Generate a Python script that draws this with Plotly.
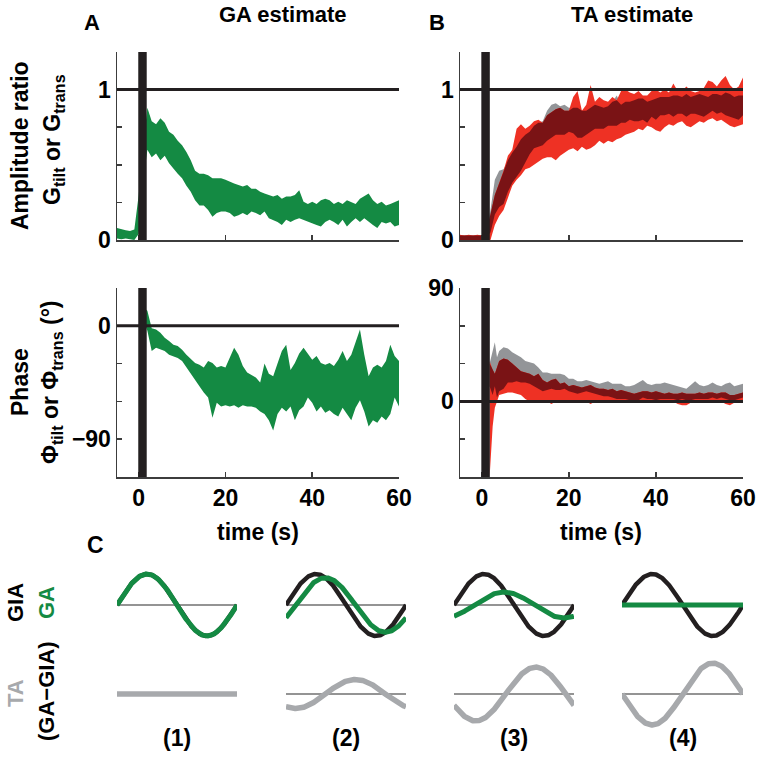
import numpy as np
import plotly.graph_objects as go

# ---------------- data ----------------
# Panel A top: GA amplitude ratio band, t = -5..60 s
t_amp = list(range(-5, 61))
ga_amp_hi = [0.08, 0.07, 0.065, 0.06, 0.07, 0.30, 0.62, 0.88, 0.79, 0.77, 0.81, 0.78, 0.72, 0.70, 0.66, 0.63,
             0.585, 0.53, 0.46, 0.44, 0.44, 0.43, 0.41, 0.41, 0.41, 0.40, 0.385, 0.375, 0.365, 0.355, 0.365,
             0.34, 0.34, 0.32, 0.31, 0.30, 0.29, 0.30, 0.275, 0.29, 0.29, 0.30, 0.33, 0.255, 0.24, 0.255,
             0.24, 0.265, 0.275, 0.265, 0.24, 0.255, 0.24, 0.265, 0.255, 0.24, 0.275, 0.29, 0.31, 0.265,
             0.24, 0.255, 0.23, 0.24, 0.255, 0.265]
ga_amp_lo = [0.01, 0.005, 0.01, 0.005, 0.0, 0.04, 0.38, 0.60, 0.55, 0.575, 0.53, 0.56, 0.51, 0.475, 0.44, 0.41,
             0.36, 0.32, 0.265, 0.23, 0.23, 0.20, 0.155, 0.18, 0.19, 0.19, 0.18, 0.155, 0.165, 0.18, 0.165,
             0.19, 0.18, 0.165, 0.19, 0.145, 0.135, 0.12, 0.10, 0.135, 0.12, 0.135, 0.145, 0.135, 0.12, 0.11,
             0.10, 0.09, 0.12, 0.135, 0.12, 0.10, 0.135, 0.09, 0.12, 0.145, 0.12, 0.145, 0.12, 0.10, 0.08,
             0.12, 0.11, 0.12, 0.09, 0.10]

# Panel B top: TA amplitude ratio, two conditions (gray, red), t = -5..60 s
ta_gray_amp_hi = [0.03, 0.03, 0.025, 0.03, 0.03, 0.03, 0.07, 0.20, 0.40, 0.46, 0.47, 0.53, 0.58, 0.62, 0.67, 0.70,
                  0.72, 0.76, 0.78, 0.79, 0.86, 0.90, 0.91, 0.89, 0.90, 0.88, 0.88, 0.88, 0.86, 0.86, 0.88,
                  0.90, 0.89, 0.88, 0.89, 0.92, 0.96, 0.90, 0.92, 0.92, 0.93, 0.94, 0.94, 0.92, 0.93, 0.94,
                  0.95, 0.95, 0.95, 0.96, 0.96, 0.95, 0.97, 0.95, 0.96, 0.97, 0.96, 0.95, 0.97, 0.97, 0.96,
                  0.98, 0.97, 0.95, 0.96, 0.96]
ta_gray_amp_lo = [0, 0, 0, 0, 0, 0, 0.02, 0.05, 0.17, 0.22, 0.24, 0.32, 0.38, 0.42, 0.46, 0.52,
                  0.57, 0.61, 0.62, 0.63, 0.66, 0.68, 0.70, 0.70, 0.70, 0.72, 0.71, 0.68, 0.68, 0.70, 0.72,
                  0.74, 0.74, 0.74, 0.76, 0.76, 0.76, 0.78, 0.78, 0.80, 0.79, 0.79, 0.80, 0.78, 0.82, 0.80,
                  0.83, 0.83, 0.84, 0.82, 0.84, 0.84, 0.82, 0.84, 0.84, 0.83, 0.82, 0.84, 0.86, 0.84, 0.85,
                  0.83, 0.82, 0.81, 0.80, 0.83]
ta_red_amp_hi = [0.035, 0.03, 0.035, 0.03, 0.035, 0.03, 0.06, 0.17, 0.30, 0.38, 0.46, 0.56, 0.60, 0.74, 0.77, 0.74,
                 0.76, 0.79, 0.80, 0.78, 0.83, 0.85, 0.87, 0.88, 0.86, 0.86, 0.95, 0.99, 0.86, 0.90, 1.03,
                 0.92, 0.95, 0.93, 0.92, 0.95, 0.93, 0.99, 1.00, 0.98, 0.97, 0.99, 0.96, 0.96, 0.99, 1.00,
                 0.98, 1.00, 0.98, 1.04, 0.99, 0.99, 1.02, 0.99, 0.98, 0.99, 1.01, 1.06, 1.05, 1.02, 1.06,
                 1.09, 1.03, 1.00, 1.02, 1.08]
ta_red_amp_lo = [0, 0, 0, 0, 0, 0, 0.0, 0.0, 0.10, 0.16, 0.20, 0.28, 0.36, 0.40, 0.43, 0.47,
                 0.48, 0.50, 0.52, 0.54, 0.55, 0.55, 0.53, 0.56, 0.58, 0.60, 0.61, 0.59, 0.62, 0.60, 0.61,
                 0.63, 0.66, 0.64, 0.66, 0.65, 0.67, 0.68, 0.70, 0.71, 0.72, 0.74, 0.73, 0.76, 0.75, 0.73,
                 0.72, 0.75, 0.77, 0.76, 0.78, 0.79, 0.76, 0.75, 0.77, 0.79, 0.78, 0.80, 0.81, 0.79, 0.80,
                 0.78, 0.76, 0.75, 0.76, 0.77]

# Panel A bottom: GA phase (deg), t = 1..60 s
t_ph_a = list(range(1, 61))
ga_ph_hi = [15, 12, -2, -3, -5.6, -9.5, -12, -15, -16, -19, -23, -26, -29.5, -31, -33, -28, -29.5, -33, -32, -33,
            -25.5, -17.5, -23, -32, -37, -39, -41, -45, -30, -38, -40, -30, -20, -15, -35, -29.5, -22, -17.5,
            -22, -27, -24, -29.5, -31, -29.5, -32, -27, -20, -28, -23, -12, -3, -23, -40, -33, -31, -33, -28,
            -15, -24, -28]
ga_ph_lo = [5, -4, -20, -17.5, -19, -20, -23, -24, -25.5, -28, -32, -37, -43, -48, -53, -57, -73, -61, -64, -63,
            -64, -63, -65, -63, -64, -64, -65, -68, -70, -75, -83, -70, -65, -68, -64, -75, -67, -64, -57, -61,
            -68, -64, -69, -67, -70, -72, -65, -70, -75, -65, -59, -68, -80, -75, -77, -72, -75, -70, -57, -64]

# Panel B bottom: TA phase (deg), two conditions
t_ph_b = [1.8, 2.5, 3, 3.5] + list(range(4, 61))
ta_gray_ph_hi = [30, 40, 47, 35, 40, 43, 42, 39, 37, 35, 32, 31, 30, 27, 23, 23, 22, 22, 22, 21, 18, 18, 16, 16,
                 17, 16, 15, 14, 15, 16, 14, 14, 14, 12, 12, 13, 15, 17, 14, 13, 14, 14, 15, 14, 13, 12, 11, 10,
                 13, 16, 13, 12, 13, 15, 13, 12, 14, 15, 12, 13, 14]
ta_gray_ph_lo = [12, 5, 12, 3, 8, 10, 15, 15, 16, 15, 15, 14, 12, 10, 8, 9, 10, 9, 9, 10, 8, 7, 6, 7, 8, 7, 6, 5,
                 4, 4, 3, 2, 2, 2, 1, 0, 1, 3, 2, 2, 1, 2, 2, 2, 2, 1, 2, 1, 1, 2, 2, 2, 2, 3, 2, 3, 2, 1, 1, 2, 3]
ta_red_ph_hi = [32, 25, 22, 27, 32, 34, 33, 30, 27, 24, 23, 22, 20, 22, 17, 15, 17, 18, 14, 15, 12, 13, 12, 11,
                12, 13, 11, 10, 10, 9, 10, 8, 9, 8, 7, 6, 7, 8, 8, 7, 8, 7, 6, 7, 6, 6, 7, 6, 6, 6, 7, 6, 7, 7,
                6, 7, 7, 5, 5, 6, 7]
ta_red_ph_lo = [-60, -20, -5, 0, 5, 6, 7, 7, 6, 5, 2, 0, 0, 0, -1, 0, -2, 0, -1, 0, -1, 0, 0, 0, 0, -2, 0, 0, 0,
                0, 0, -1, 0, 0, 0, 0, 0, 0, 0, 0, -1, 0, 0, -1, 0, -2, -3, -3, -1, 0, 0, 0, 0, 0, 0, 0, -2, -3,
                -1, 0, 1]

# Stimulus-onset bar (s)
stim_bar = [-0.1, 1.85]

# Panel C schematic: GA relative to GIA (gain, phase in deg), columns (1)..(4)
case_labels = ["(1)", "(2)", "(3)", "(4)"]
gia_gain = [1.0, 1.0, 1.0, 1.0]
ga_gain = [1.0, 0.88, 0.42, 0.0]
ga_phase_deg = [0.0, -28.0, -60.0, 0.0]

# ---------------- style ----------------
W, H = 762, 761
FONT = "Liberation Sans, Arial, Helvetica, sans-serif"
BLACK = "#231f20"
GREEN = "#148a43"
RED = "#ee3124"
DARKRED = "#7a1315"
GRAY = "#939598"
LGRAY = "#a7a9ac"
AXC = "#3c3c3c"


def fx(px):
    return px / W


def fy(py):
    return 1 - py / H


fig = go.Figure()


def band(x, hi, lo, color, xa, ya):
    x = list(x)
    fig.add_trace(go.Scatter(x=x + x[::-1], y=list(hi) + list(lo)[::-1], fill="toself",
                             fillcolor=color, line=dict(width=0, color=color), mode="lines",
                             xaxis=xa, yaxis=ya, hoverinfo="skip", showlegend=False))


def overlap(hi1, lo1, hi2, lo2):
    hi = np.minimum(np.array(hi1, float), np.array(hi2, float))
    lo = np.maximum(np.array(lo1, float), np.array(lo2, float))
    mid = (hi + lo) / 2
    hi2_ = np.where(hi > lo, hi, mid)
    lo2_ = np.where(hi > lo, lo, mid)
    return hi2_, lo2_


# A top
band(t_amp, ga_amp_hi, ga_amp_lo, GREEN, "x", "y")
# B top
band(t_amp, ta_gray_amp_hi, ta_gray_amp_lo, GRAY, "x2", "y2")
band(t_amp, ta_red_amp_hi, ta_red_amp_lo, RED, "x2", "y2")
oh, ol = overlap(ta_gray_amp_hi, ta_gray_amp_lo, ta_red_amp_hi, ta_red_amp_lo)
band(t_amp, oh, ol, DARKRED, "x2", "y2")
# A bottom
band(t_ph_a, ga_ph_hi, ga_ph_lo, GREEN, "x3", "y3")
# B bottom
band(t_ph_b, ta_gray_ph_hi, ta_gray_ph_lo, GRAY, "x4", "y4")
band(t_ph_b, ta_red_ph_hi, ta_red_ph_lo, RED, "x4", "y4")
oh, ol = overlap(ta_gray_ph_hi, ta_gray_ph_lo, ta_red_ph_hi, ta_red_ph_lo)
band(t_ph_b, oh, ol, DARKRED, "x4", "y4")

# Panel C waves
cols_px = [(117, 237), (286, 406), (454, 574), (622, 743)]
row1_px = (570, 640)
row2_px = (659, 729)
ph = np.linspace(0, 2 * np.pi, 241)
shapes = []
layout_axes = {}
for i in range(4):
    n1 = 5 + 2 * i
    n2 = 6 + 2 * i
    gia = gia_gain[i] * np.sin(ph)
    ga = ga_gain[i] * np.sin(ph + np.deg2rad(ga_phase_deg[i]))
    ta = ga - gia
    fig.add_trace(go.Scatter(x=ph, y=gia, mode="lines", line=dict(color=BLACK, width=4.5),
                             xaxis=f"x{n1}", yaxis=f"y{n1}", showlegend=False, hoverinfo="skip"))
    fig.add_trace(go.Scatter(x=ph, y=ga, mode="lines", line=dict(color=GREEN, width=5),
                             xaxis=f"x{n1}", yaxis=f"y{n1}", showlegend=False, hoverinfo="skip"))
    fig.add_trace(go.Scatter(x=ph, y=ta, mode="lines", line=dict(color=LGRAY, width=5.5),
                             xaxis=f"x{n2}", yaxis=f"y{n2}", showlegend=False, hoverinfo="skip"))
    x0, x1 = cols_px[i]
    for n, (ya, yb) in ((n1, row1_px), (n2, row2_px)):
        layout_axes[f"xaxis{n}"] = dict(domain=[fx(x0), fx(x1)], range=[0, 2 * np.pi], visible=False,
                                        anchor=f"y{n}", automargin=False)
        layout_axes[f"yaxis{n}"] = dict(domain=[fy(yb), fy(ya)], range=[-1.13, 1.13], visible=False,
                                        anchor=f"x{n}", automargin=False)
        shapes.append(dict(type="line", xref=f"x{n}", yref=f"y{n}", x0=0, x1=2 * np.pi, y0=0, y1=0,
                           line=dict(color="#2a2a2a", width=1.2), layer="below"))

# main axes
tickfont = dict(family=FONT, size=23, color="black", weight="bold")
axbase = dict(showline=True, linecolor=AXC, linewidth=1.5, ticks="inside", ticklen=5, tickwidth=1.5,
              tickcolor=AXC, showgrid=False, zeroline=False, tickfont=tickfont, range=[-5, 60],
              automargin=False)
xt_vals = [0, 20, 40, 60]

panels = {
    1: dict(x=(117, 399), y=(52, 240)),
    2: dict(x=(460, 743), y=(52, 240)),
    3: dict(x=(117, 399), y=(288, 477)),
    4: dict(x=(460, 743), y=(288, 477)),
}
for n, p in panels.items():
    sfx = "" if n == 1 else str(n)
    xa = dict(axbase)
    xa.update(domain=[fx(p["x"][0]), fx(p["x"][1])], anchor=f"y{sfx}", tickvals=xt_vals,
              ticktext=[str(v) for v in xt_vals] if n >= 3 else ["", "", "", ""])
    layout_axes[f"xaxis{sfx}"] = xa
    ya = dict(axbase)
    ya.update(domain=[fy(p["y"][1]), fy(p["y"][0])], anchor=f"x{sfx}")
    if n in (1, 2):
        ya.update(range=[0, 1.25], tickvals=[0, 0.25, 0.5, 0.75, 1, 1.25], ticktext=["0", "", "", "", "1", ""])
    elif n == 3:
        ya.update(range=[-120, 30], tickvals=[-120, -90, -60, -30, 0, 30], ticktext=["", "\u221290", "", "", "0", ""])
    else:
        ya.update(range=[-60, 90], tickvals=[-60, -30, 0, 30, 60, 90], ticktext=["", "", "0", "", "", "90"])
    layout_axes[f"yaxis{sfx}"] = ya
    # reference line
    refy = 1 if n in (1, 2) else 0
    shapes.append(dict(type="line", xref=f"x{sfx}", yref=f"y{sfx}", x0=-5, x1=60, y0=refy, y1=refy,
                       line=dict(color=BLACK, width=3), layer="above"))
    # stimulus bar
    shapes.append(dict(type="rect", xref=f"x{sfx}", yref=f"y{sfx} domain", x0=stim_bar[0], x1=stim_bar[1],
                       y0=0, y1=1, fillcolor=BLACK, line=dict(width=0), layer="above"))

annotations = []


def ann(text, x, y, size=22, color="black", angle=0, bold=True, xanchor="center", yanchor="middle"):
    annotations.append(dict(text=text, x=fx(x), y=fy(y), xref="paper", yref="paper", showarrow=False,
                            textangle=angle, xanchor=xanchor, yanchor=yanchor,
                            font=dict(family=FONT, size=size, color=color, weight="bold" if bold else "normal")))


ann("A", 92, 23, size=22)
ann("B", 437, 22, size=22)
ann("C", 95, 545, size=23)
ann("GA estimate", 283, 15)
ann("TA estimate", 632, 15)
ann("Amplitude ratio", 20, 146, angle=-90, size=23)
ann("G<sub>tilt</sub> or G<sub>trans</sub>", 54, 140, angle=-90, size=23)
ann("Phase", 20, 382, angle=-90, size=23)
ann("\u03a6<sub>tilt</sub> or \u03a6<sub>trans</sub> (\u00b0)", 51, 382, angle=-90, size=23)
ann("time (s)", 258, 532, size=23)
ann("time (s)", 601, 532, size=23)
for i, lab in enumerate(case_labels):
    ann(lab, (cols_px[i][0] + cols_px[i][1]) / 2, 738, size=23)
ann("GIA", 15, 603, angle=-90)
ann("GA", 46, 603, angle=-90, color=GREEN)
ann("TA", 15, 693, angle=-90, color=LGRAY)
ann("(GA\u2212GIA)", 46, 691, angle=-90)

fig.update_layout(template="none", width=W, height=H, margin=dict(l=0, r=0, t=0, b=0, autoexpand=False),
                  paper_bgcolor="white", plot_bgcolor="rgba(0,0,0,0)", showlegend=False, shapes=shapes,
                  annotations=annotations, font=dict(family=FONT), hovermode=False, **layout_axes)

fig.write_html("out.html", config={"displayModeBar": False, "staticPlot": True},
               post_script="document.body.style.margin='0';document.body.style.overflow='hidden';")
